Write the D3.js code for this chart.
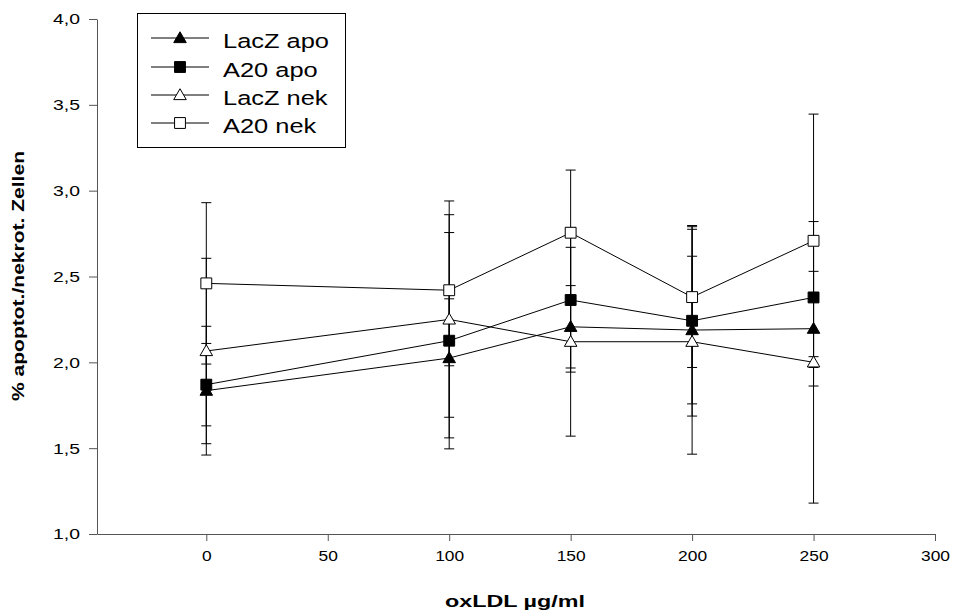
<!DOCTYPE html>
<html><head><meta charset="utf-8">
<script src="https://cdn.jsdelivr.net/npm/d3@7"></script>
<style>body{margin:0;background:#fff}svg{display:block}text{font-family:"Liberation Sans",Arial,sans-serif}</style>
</head><body><svg id="c" width="954" height="615"></svg>
<script>
const xValues = [0, 100, 150, 200, 250];
const seriesNames = ["LacZ apo", "A20 apo", "LacZ nek", "A20 nek"];
const lacZApo = [1.835, 2.025, 2.207, 2.188, 2.196];
const lacZApoErr = [0.375, 0.345, 0.24, 0.43, 0.334];
const a20Apo = [1.87, 2.126, 2.363, 2.242, 2.378];
const a20ApoErr = [0.24, 0.63, 0.42, 0.555, 0.345];
const lacZNek = [2.066, 2.25, 2.12, 2.12, 2.0];
const lacZNekErr = [0.54, 0.69, 0.55, 0.655, 0.82];
const a20Nek = [2.46, 2.42, 2.755, 2.38, 2.708];
const a20NekErr = [0.47, 0.44, 0.365, 0.41, 0.738];
const xTicks = [0, 50, 100, 150, 200, 250, 300];
const yTicks = [1.0, 1.5, 2.0, 2.5, 3.0, 3.5, 4.0];

const series = [
  {name: seriesNames[0], v: lacZApo, e: lacZApoErr, shape: "tri", fill: "#000"},
  {name: seriesNames[1], v: a20Apo, e: a20ApoErr, shape: "sq", fill: "#000"},
  {name: seriesNames[2], v: lacZNek, e: lacZNekErr, shape: "tri", fill: "#fff"},
  {name: seriesNames[3], v: a20Nek, e: a20NekErr, shape: "sq", fill: "#fff"}
];

const STRETCH = 1.25;
function stretch(sel, k) {
  sel.each(function() {
    const w = this.getComputedTextLength();
    d3.select(this).attr("textLength", w * (k || STRETCH)).attr("lengthAdjust", "spacingAndGlyphs");
  });
}

const svg = d3.select("#c");
const x = d3.scaleLinear().domain([-45, 300]).range([97, 935]);
const y = d3.scaleLinear().domain([1, 4]).range([534, 19]);
const axisColor = "#555";

const gx = svg.append("g").attr("transform", "translate(0,534)")
  .call(d3.axisBottom(x).tickValues(xTicks).tickSize(7).tickSizeOuter(0).tickPadding(9).tickFormat(d3.format("d")));
const gy = svg.append("g").attr("transform", "translate(97,0)")
  .call(d3.axisLeft(y).tickValues(yTicks).tickSize(8).tickSizeOuter(0).tickPadding(9).tickFormat(d => d.toFixed(1).replace(".", ",")));
[gx, gy].forEach(g => {
  g.selectAll("path,line").attr("stroke", axisColor).attr("stroke-width", 1);
  g.selectAll("text").attr("fill", "#000").style("font-size", "15.5px").style("font-family", "Liberation Sans, Arial, sans-serif");
});
gy.selectAll("text").call(stretch);
gx.selectAll("text").call(stretch, 1.12);

function marker(sel, shape) {
  if (shape === "tri") sel.attr("d", d3.symbol().type(d3.symbolTriangle).size(68)());
  else sel.attr("d", d3.symbol().type(d3.symbolSquare).size(118)());
}

// error bars
series.forEach(s => {
  const g = svg.append("g");
  xValues.forEach((xv, i) => {
    const cx = x(xv), lo = y(s.v[i] - s.e[i]), hi = y(s.v[i] + s.e[i]);
    g.append("line").attr("x1", cx).attr("x2", cx).attr("y1", lo).attr("y2", hi).attr("stroke", "#000").attr("stroke-width", 1);
    [lo, hi].forEach(yy => g.append("line").attr("x1", cx - 5).attr("x2", cx + 5).attr("y1", yy).attr("y2", yy).attr("stroke", "#000").attr("stroke-width", 1));
  });
});
// lines
const line = d3.line().x((d, i) => x(xValues[i])).y(d => y(d));
series.forEach(s => {
  svg.append("path").attr("d", line(s.v)).attr("fill", "none").attr("stroke", "#000").attr("stroke-width", 1);
});
// symbols
series.forEach(s => {
  s.v.forEach((v, i) => {
    svg.append("path").call(marker, s.shape)
      .attr("transform", `translate(${x(xValues[i])},${y(v) + (s.shape === "tri" ? 1 : 0)})`)
      .attr("fill", s.fill).attr("stroke", "#000").attr("stroke-width", 1);
  });
});

// legend
const lg = svg.append("g");
lg.append("rect").attr("x", 137.5).attr("y", 13.5).attr("width", 208).attr("height", 134)
  .attr("fill", "#fff").attr("stroke", "#000").attr("stroke-width", 1);
const rowY = [38, 67, 95, 123];
series.forEach((s, i) => {
  const yy = rowY[i];
  lg.append("line").attr("x1", 151).attr("x2", 209).attr("y1", yy).attr("y2", yy).attr("stroke", "#000");
  lg.append("path").call(marker, s.shape).attr("transform", `translate(180,${yy + (s.shape === "tri" ? 1 : 0)})`)
    .attr("fill", s.fill).attr("stroke", "#000");
  lg.append("text").attr("x", 223).attr("y", yy + 10).text(s.name).style("font-size", "20.5px").call(stretch, 1.24);
});

// titles
svg.append("text").attr("x", 445).attr("y", 607)
  .style("font-size", "16.5px").style("font-weight", "bold").text("oxLDL µg/ml")
  .attr("textLength", 140).attr("lengthAdjust", "spacingAndGlyphs");
svg.append("text").attr("transform", "translate(24,276) rotate(-90)").attr("text-anchor", "middle")
  .style("font-size", "17px").style("font-weight", "bold").text("% apoptot./nekrot. Zellen")
  .attr("textLength", 250).attr("lengthAdjust", "spacingAndGlyphs");
</script></body></html>
